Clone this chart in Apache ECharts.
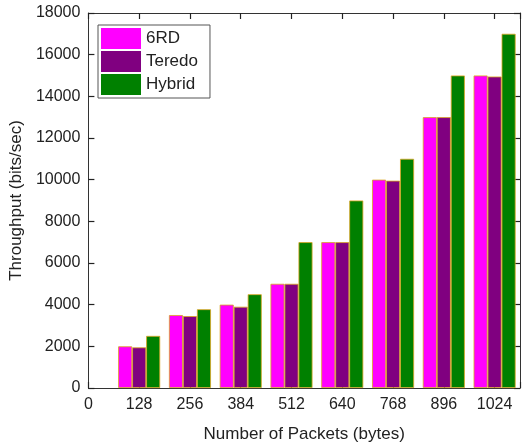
<!DOCTYPE html>
<html>
<head>
<meta charset="utf-8">
<script src="https://cdn.jsdelivr.net/npm/echarts@6/dist/echarts.min.js"></script>
<style>html,body{margin:0;padding:0;background:#fff}#c{width:524px;height:448px}</style>
</head>
<body>
<div id="c"></div>
<script>
var packets = [128, 256, 384, 512, 640, 768, 896, 1024];
var sixRD  = [2000, 3500, 4000, 5000, 7000, 10000, 13000, 15000];
var teredo = [1950, 3450, 3900, 5000, 7000, 9950, 13000, 14950];
var hybrid = [2500, 3780, 4500, 7000, 9000, 11000, 15000, 17000];
var seriesNames = ['6RD', 'Teredo', 'Hybrid'];
var colors = ['#ff00ff', '#800080', '#008000'];

var font = 'Liberation Sans, Arial, sans-serif';
var ink = '#222';
var chart = echarts.init(document.getElementById('c'));

function mk(name, vals, color) {
  return {
    name: name, type: 'bar', xAxisIndex: 0, yAxisIndex: 0,
    barWidth: 14, barGap: '0%',
    itemStyle: { color: color, borderColor: '#d9a521', borderWidth: 0.8 },
    data: packets.map(function (p, i) { return [p, vals[i]]; })
  };
}

function axisLine() { return { show: true, onZero: false, lineStyle: { color: '#333', width: 1 } }; }
function tick() { return { show: true, inside: true, length: 6, lineStyle: { color: '#222', width: 1.2 } }; }

chart.setOption({
  animation: false,
  backgroundColor: '#fff',
  textStyle: { fontFamily: font },
  grid: { left: 84, top: 13, right: 4, bottom: 56, containLabel: false },
  legend: {
    orient: 'vertical', left: 98, top: 25,
    data: seriesNames,
    itemWidth: 40, itemHeight: 21, itemGap: 2,
    padding: [3, 12, 3, 3],
    borderColor: '#555', borderWidth: 1, backgroundColor: '#fff',
    icon: 'rect',
    itemStyle: { borderWidth: 0 },
    textStyle: { fontFamily: font, fontSize: 17, color: ink }
  },
  xAxis: [{
    type: 'value', min: 0, max: 1088, interval: 128, position: 'bottom',
    name: 'Number of Packets (bytes)', nameLocation: 'middle', nameGap: 38,
    nameTextStyle: { fontFamily: font, fontSize: 17, color: ink },
    axisLine: axisLine(), axisTick: tick(), splitLine: { show: false },
    axisLabel: {
      fontFamily: font, fontSize: 16, color: ink, margin: 9,
      formatter: function (v) { return v <= 1024 ? String(v) : ''; }
    }
  }, {
    type: 'value', min: 0, max: 1088, interval: 128, position: 'top',
    axisLine: axisLine(), axisTick: tick(), splitLine: { show: false },
    axisLabel: { show: false }
  }],
  yAxis: [{
    type: 'value', min: 0, max: 18000, interval: 2000, position: 'left',
    name: 'Throughput (bits/sec)', nameLocation: 'middle', nameGap: 62,
    nameTextStyle: { fontFamily: font, fontSize: 17, color: ink },
    axisLine: axisLine(), axisTick: tick(), splitLine: { show: false },
    axisLabel: { fontFamily: font, fontSize: 16, color: ink, margin: 8,
      formatter: function (v) { return String(v); } }
  }, {
    type: 'value', min: 0, max: 18000, interval: 2000, position: 'right',
    axisLine: axisLine(), axisTick: tick(), splitLine: { show: false },
    axisLabel: { show: false }
  }],
  series: [
    mk(seriesNames[0], sixRD, colors[0]),
    mk(seriesNames[1], teredo, colors[1]),
    mk(seriesNames[2], hybrid, colors[2])
  ]
});
</script>
</body>
</html>
